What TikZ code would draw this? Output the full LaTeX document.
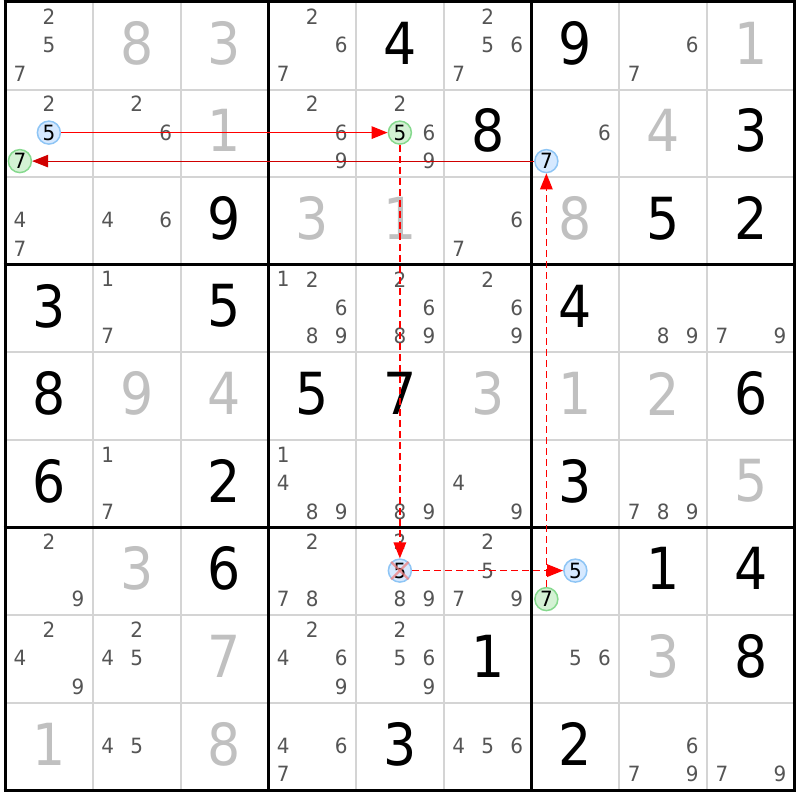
\documentclass[tikz,border=0pt]{standalone}
\usepackage{fontspec}
\usetikzlibrary{arrows.meta}
\newfontfamily\bigf[FakeStretch=0.9]{DejaVu Sans}
\newfontfamily\smallf[FakeStretch=0.95]{DejaVu Sans}
\definecolor{candc}{HTML}{555555}
\definecolor{solvc}{HTML}{C0C0C0}
\definecolor{thinc}{HTML}{D4D4D4}
\definecolor{bluef}{HTML}{D6E9FF}
\definecolor{bluel}{HTML}{8EC5F5}
\definecolor{greenf}{HTML}{D4F2D4}
\definecolor{greenl}{HTML}{86D98E}
\definecolor{linkred}{HTML}{FF0000}
\definecolor{linkdark}{HTML}{D00000}
\definecolor{xred}{HTML}{F08080}
\newcommand\cellpos[2]{%
  \pgfmathsetmacro\px{5+(#2-0.5)*87.75}%
  \pgfmathsetmacro\py{2+(#1-0.5)*87.6}}
\newcommand\given[3]{\cellpos{#1}{#2}\node[givenstyle] (g#1#2) at (\px,\py-2.7) {#3};}
\newcommand\solved[3]{\cellpos{#1}{#2}\node[solvedstyle] (s#1#2) at (\px,\py-2.7) {#3};}
\newcommand\cands[3]{\cellpos{#1}{#2}%
  \foreach \d in {#3}{%
    \pgfmathtruncatemacro\kx{mod(\d-1,3)}%
    \pgfmathtruncatemacro\ky{div(\d-1,3)}%
    \node[candstyle] (k#1#2\d) at ({\px+(\kx-1)*29},{\py+(\ky-1)*28.5-0.8}) {\d};}}
\newcommand\ccand[4]{\cellpos{#1}{#2}%
    \pgfmathtruncatemacro\kx{mod(#3-1,3)}%
    \pgfmathtruncatemacro\ky{div(#3-1,3)}%
    \node[#4] (n#1#2#3) at ({\px+(\kx-1)*29},{\py+(\ky-1)*28.5-0.8}) {#3};}
\tikzset{
  givenstyle/.style={inner sep=0pt, text=black, font=\bigf\fontsize{58}{58}\selectfont},
  solvedstyle/.style={inner sep=0pt, text=solvc, font=\bigf\fontsize{58}{58}\selectfont},
  candstyle/.style={inner sep=0pt, text=candc, font=\smallf\fontsize{21}{21}\selectfont},
  circbase/.style={circle, inner sep=0pt, minimum size=23pt, line width=1.5pt, text=black,
    font=\smallf\fontsize{21}{21}\selectfont},
  bluec/.style={circbase, fill=bluef, draw=bluel},
  greenc/.style={circbase, fill=greenf, draw=greenl},
  thinline/.style={draw=thinc, line width=2pt},
  thickline/.style={draw=black, line width=3pt},
  linkstyle/.style={draw=linkred, line width=1.3pt, -{Triangle[length=16pt,width=12.5pt]}},
  linkdash/.style={linkstyle, line width=1.5pt, dash pattern=on 7pt off 4pt},
  xmark/.style={draw=xred, line width=2.2pt, opacity=0.75}
}
\begin{document}
\begin{tikzpicture}[x=1pt,y=-1pt]
\useasboundingbox (0,0) rectangle (800,800);
\fill[white] (0,0) rectangle (800,800);
% grid
\foreach \i in {1,2,4,5,7,8}{
  \draw[thinline] ({5+\i*87.75},2) -- ({5+\i*87.75},790.4);
  \draw[thinline] (5,{2+\i*87.6}) -- (794.75,{2+\i*87.6});
}
\foreach \i in {0,3,6,9}{
  \draw[thickline] ({5+\i*87.75},0.5) -- ({5+\i*87.75},791.9);
  \draw[thickline] (3.5,{2+\i*87.6}) -- (796.25,{2+\i*87.6});
}
% givens
\given{1}{5}{4}\given{1}{7}{9}
\given{2}{6}{8}\given{2}{9}{3}
\given{3}{3}{9}\given{3}{8}{5}\given{3}{9}{2}
\given{4}{1}{3}\given{4}{3}{5}\given{4}{7}{4}
\given{5}{1}{8}\given{5}{4}{5}\given{5}{5}{7}\given{5}{9}{6}
\given{6}{1}{6}\given{6}{3}{2}\given{6}{7}{3}
\given{7}{3}{6}\given{7}{8}{1}\given{7}{9}{4}
\given{8}{6}{1}\given{8}{9}{8}
\given{9}{5}{3}\given{9}{7}{2}
% solved
\solved{1}{2}{8}\solved{1}{3}{3}\solved{1}{9}{1}
\solved{2}{3}{1}\solved{2}{8}{4}
\solved{3}{4}{3}\solved{3}{5}{1}\solved{3}{7}{8}
\solved{5}{2}{9}\solved{5}{3}{4}\solved{5}{6}{3}\solved{5}{7}{1}\solved{5}{8}{2}
\solved{6}{9}{5}
\solved{7}{2}{3}
\solved{8}{3}{7}\solved{8}{8}{3}
\solved{9}{1}{1}\solved{9}{3}{8}
% candidates
\cands{1}{1}{2,5,7}\cands{1}{4}{2,6,7}\cands{1}{6}{2,5,6,7}\cands{1}{8}{6,7}
\cands{2}{1}{2}\cands{2}{2}{2,6}\cands{2}{4}{2,6,9}\cands{2}{5}{2,6,9}\cands{2}{7}{6}
\cands{3}{1}{4,7}\cands{3}{2}{4,6}\cands{3}{6}{6,7}
\cands{4}{2}{1,7}\cands{4}{4}{1,2,6,8,9}\cands{4}{5}{2,6,8,9}\cands{4}{6}{2,6,9}\cands{4}{8}{8,9}\cands{4}{9}{7,9}
\cands{6}{2}{1,7}\cands{6}{4}{1,4,8,9}\cands{6}{5}{8,9}\cands{6}{6}{4,9}\cands{6}{8}{7,8,9}
\cands{7}{1}{2,9}\cands{7}{4}{2,7,8}\cands{7}{5}{2,8,9}\cands{7}{6}{2,5,7,9}
\cands{8}{1}{2,4,9}\cands{8}{2}{2,4,5}\cands{8}{4}{2,4,6,9}\cands{8}{5}{2,5,6,9}\cands{8}{7}{5,6}
\cands{9}{2}{4,5}\cands{9}{4}{4,6,7}\cands{9}{6}{4,5,6}\cands{9}{8}{6,7,9}\cands{9}{9}{7,9}
% highlighted candidates
\ccand{2}{1}{5}{bluec}
\ccand{2}{1}{7}{greenc}
\ccand{2}{5}{5}{greenc}
\ccand{2}{7}{7}{bluec}
\ccand{7}{5}{5}{bluec}
\ccand{7}{7}{5}{bluec}
\ccand{7}{7}{7}{greenc}
\draw[xmark] (n755.45) -- (n755.225);
\draw[xmark] (n755.135) -- (n755.315);
% links
\draw[linkstyle] (n215) -- (n255);
\draw[linkstyle, draw=linkdark, line width=1pt] (n277) -- (n217);
\draw[linkdash] (n255) -- (n755);
\draw[linkdash] (n755) -- (n775);
\draw[linkdash] (n777) -- (n277);
\end{tikzpicture}
\end{document}
